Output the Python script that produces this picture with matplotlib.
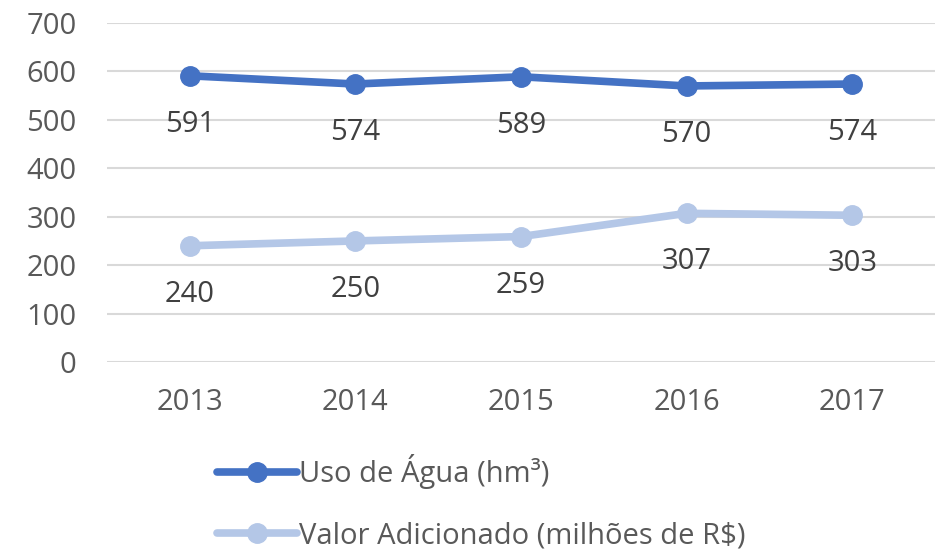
import matplotlib
matplotlib.use("Agg")
import matplotlib.pyplot as plt
from matplotlib.lines import Line2D

years = ["2013", "2014", "2015", "2016", "2017"]
uso_agua = [591, 574, 589, 570, 574]
valor_adicionado = [240, 250, 259, 307, 303]
series_names = ["Uso de Água (hm³)", "Valor Adicionado (milhões de R$)"]
y_ticks = [0, 100, 200, 300, 400, 500, 600, 700]

c_dark = "#4472C4"
c_light = "#B4C7E7"
txt = "#595959"
plt.rcParams['font.family'] = ['Open Sans', 'DejaVu Sans']

fig = plt.figure(figsize=(9.4, 5.51), dpi=100)
ax = fig.add_axes([107/940, 1-362/551, 828/940, (362-23)/551])

x = list(range(len(years)))
for vals, col in [(uso_agua, c_dark), (valor_adicionado, c_light)]:
    ax.plot(x, vals, color=col, lw=5.5, marker='o', ms=14, solid_capstyle='round', zorder=3)
    for xi, v in zip(x, vals):
        ax.annotate(str(v), (xi, v), xytext=(0, -35), textcoords='offset points',
                    ha='center', va='center', fontsize=21, color='#404040')

ax.set_xlim(-0.5, 4.5)
ax.set_ylim(0, 700)
ax.set_yticks(y_ticks)
ax.set_xticks(x)
ax.set_xticklabels(years)
ax.grid(axis='y', color='#D9D9D9', lw=1.5)
ax.set_axisbelow(True)
for s in ax.spines.values():
    s.set_visible(False)
ax.tick_params(axis='both', length=0, labelsize=21, labelcolor=txt)
ax.tick_params(axis='y', pad=22)
ax.tick_params(axis='x', pad=19)

handles = [Line2D([], [], color=c, lw=5.5, marker='o', ms=14, solid_capstyle='round') for c in (c_dark, c_light)]
leg = fig.legend(handles, series_names, loc='upper left', bbox_to_anchor=(191/940, 1-428/551),
                 frameon=False, fontsize=21, handlelength=2.75, handletextpad=0.05,
                 labelspacing=1.1, labelcolor=txt)

fig.savefig("out.png", dpi=100)
